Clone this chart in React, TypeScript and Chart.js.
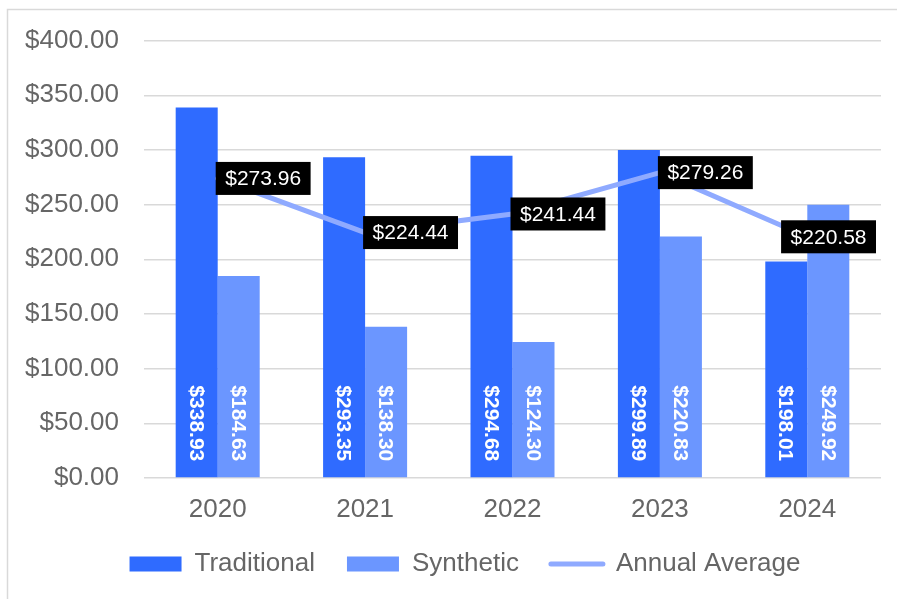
import React, { useEffect, useRef } from 'react';
import { Chart, registerables } from 'chart.js';

Chart.register(...registerables);

const categories = ['2020', '2021', '2022', '2023', '2024'];
const traditional = [338.93, 293.35, 294.68, 299.89, 198.01];
const synthetic = [184.63, 138.3, 124.3, 220.83, 249.92];
const annualAverage = [273.96, 224.44, 241.44, 279.26, 220.58];
const seriesNames = ['Traditional', 'Synthetic', 'Annual Average'];
const yMin = 0;
const yMax = 400;
const yStep = 50;

const FONT = '"Liberation Sans", Arial, Helvetica, sans-serif';
const TRAD_COLOR = '#2F6BFF';
const SYN_COLOR = '#6B96FF';
const LINE_COLOR = '#8FAAFF';
const TEXT_COLOR = '#666666';
const GRID_COLOR = '#D9D9D9';

const SPACER_W = 49;
const CANVAS_W = 881 + SPACER_W;
const CANVAS_H = 599;

const money = (v: number) => '$' + v.toFixed(2);

const framePlugin = {
  id: 'frame',
  beforeDraw(chart: any) {
    const ctx = chart.ctx;
    ctx.save();
    ctx.strokeStyle = GRID_COLOR;
    ctx.lineWidth = 1.5;
    ctx.beginPath();
    ctx.moveTo(7.5, chart.height + 2);
    ctx.lineTo(7.5, 9.5);
    ctx.lineTo(chart.width + 2, 9.5);
    ctx.stroke();
    ctx.restore();
  },
};

const labelsPlugin = {
  id: 'valueLabels',
  afterDatasetsDraw(chart: any) {
    const ctx = chart.ctx;
    // bar labels, rotated, at the base inside the bars
    [0, 1].forEach((di) => {
      const meta = chart.getDatasetMeta(di);
      const data = chart.data.datasets[di].data as number[];
      meta.data.forEach((el: any, i: number) => {
        ctx.save();
        ctx.translate(el.x, el.base - 16);
        ctx.rotate(Math.PI / 2);
        ctx.font = `bold 21px ${FONT}`;
        ctx.fillStyle = '#FFFFFF';
        ctx.textAlign = 'right';
        ctx.textBaseline = 'middle';
        ctx.fillText(money(data[i]), 0, 1);
        ctx.restore();
      });
    });
    // line labels in black boxes
    const meta = chart.getDatasetMeta(2);
    const data = chart.data.datasets[2].data as number[];
    const area = chart.chartArea;
    meta.data.forEach((pt: any, i: number) => {
      ctx.save();
      ctx.font = `21px ${FONT}`;
      const text = money(data[i]);
      const tw = ctx.measureText(text).width;
      const w = tw + 19;
      const h = 33;
      let left = pt.x - 2;
      if (left + w > area.right - 5) left = area.right - 5 - w;
      const top = pt.y - h / 2;
      ctx.fillStyle = '#000000';
      ctx.fillRect(left, top, w, h);
      ctx.fillStyle = '#FFFFFF';
      ctx.textAlign = 'center';
      ctx.textBaseline = 'middle';
      ctx.fillText(text, left + w / 2, pt.y + 1);
      ctx.restore();
    });
  },
};

export default function App() {
  const ref = useRef<HTMLCanvasElement | null>(null);

  useEffect(() => {
    if (!ref.current) return;
    Chart.defaults.font.family = FONT;
    const chart = new Chart(ref.current, {
      type: 'bar',
      data: {
        labels: categories,
        datasets: [
          {
            label: seriesNames[0],
            data: traditional,
            backgroundColor: TRAD_COLOR,
            categoryPercentage: 0.57,
            barPercentage: 1,
            order: 1,
          },
          {
            label: seriesNames[1],
            data: synthetic,
            backgroundColor: SYN_COLOR,
            categoryPercentage: 0.57,
            barPercentage: 1,
            order: 1,
          },
          {
            type: 'line',
            label: seriesNames[2],
            data: annualAverage,
            borderColor: LINE_COLOR,
            backgroundColor: LINE_COLOR,
            borderWidth: 5,
            borderCapStyle: 'round',
            pointRadius: 0,
            pointHoverRadius: 0,
            tension: 0,
            order: 0,
          } as any,
        ],
      },
      options: {
        animation: false,
        responsive: false,
        layout: { padding: { left: 0, right: 0, top: 38, bottom: 12 } },
        plugins: {
          tooltip: { enabled: false },
          legend: {
            position: 'bottom',
            labels: {
              font: { size: 26, family: FONT },
              color: TEXT_COLOR,
              usePointStyle: true,
              pointStyleWidth: 52,
              boxHeight: 15,
              padding: 32,
              generateLabels: (c: any) => {
                const items = Chart.defaults.plugins.legend.labels.generateLabels(c);
                items.forEach((it: any) => {
                  if (it.datasetIndex === 2) {
                    it.pointStyle = 'line';
                    it.lineWidth = 5;
                    it.strokeStyle = LINE_COLOR;
                    it.lineCap = 'round';
                  } else {
                    it.pointStyle = 'rect';
                    it.lineWidth = 0;
                  }
                });
                return items.sort((a: any, b: any) => a.datasetIndex - b.datasetIndex);
              },
            },
          },
        },
        scales: {
          x: {
            grid: { display: false, drawTicks: false },
            border: { display: false },
            ticks: {
              font: { size: 26, family: FONT },
              color: TEXT_COLOR,
              padding: 16,
              maxRotation: 0,
            },
            afterFit: (s: any) => {
              s.height = 41;
            },
          },
          y: {
            min: yMin,
            max: yMax,
            grid: { color: GRID_COLOR, lineWidth: 1.5, drawTicks: false },
            border: { display: false },
            ticks: {
              stepSize: yStep,
              font: { size: 26, family: FONT },
              color: TEXT_COLOR,
              padding: 25,
              callback: (v: any) => money(Number(v)),
            },
            afterFit: (s: any) => {
              s.width = 144;
            },
          },
          ySpacer: {
            position: 'right',
            display: true,
            grid: { display: false, drawTicks: false },
            border: { display: false },
            ticks: { display: false },
            afterFit: (s: any) => {
              s.width = SPACER_W;
            },
          },
        },
      },
      plugins: [framePlugin, labelsPlugin],
    });
    return () => chart.destroy();
  }, []);

  return (
    <div
      style={{
        position: 'fixed',
        left: 0,
        top: 0,
        width: 897,
        height: 599,
        overflow: 'hidden',
      }}
    >
      <canvas
        ref={ref}
        width={CANVAS_W}
        height={CANVAS_H}
        style={{ display: 'block', width: CANVAS_W, height: CANVAS_H }}
      />
    </div>
  );
}
